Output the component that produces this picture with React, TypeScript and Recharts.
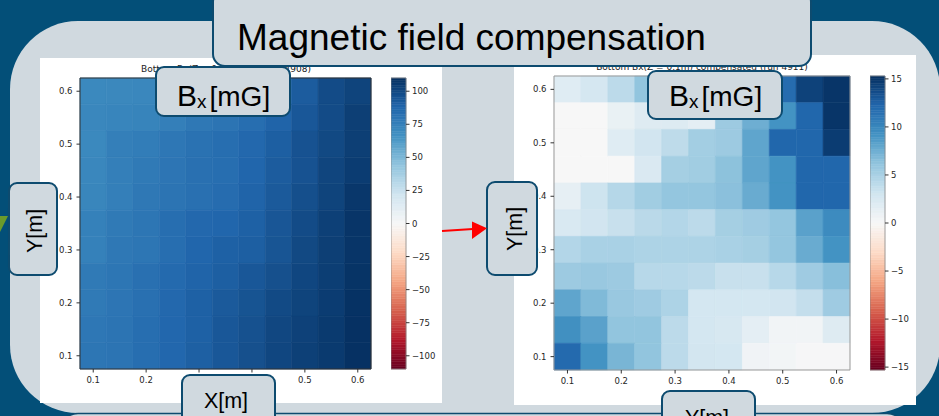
import React from "react";
import { ComposedChart, ReferenceArea, XAxis, YAxis } from "recharts";

// cell centres (m); rows are listed top (y = 0.6) to bottom (y = 0.1)
const X_CENTERS = [0.1, 0.15, 0.2, 0.25, 0.3, 0.35, 0.4, 0.45, 0.5, 0.55, 0.6];
const Y_CENTERS = [0.6, 0.55, 0.5, 0.45, 0.4, 0.35, 0.3, 0.25, 0.2, 0.15, 0.1];
const AXIS_TICKS = [0.1, 0.2, 0.3, 0.4, 0.5, 0.6];
const HALF_CELL = 0.025;

// Bx before compensation, run 4908 (mG)
const BX_BEFORE = [
  [71, 71.5, 72, 74, 77, 80, 83, 87, 92, 99, 102],
  [72, 73, 73.5, 76, 79, 81, 84, 89, 94, 99, 104],
  [71, 76, 77, 79.5, 82, 84, 87, 91, 96, 100, 104],
  [72, 76, 78, 80.5, 83, 84, 88, 92, 96, 101.5, 105],
  [72.5, 76, 79, 81, 83, 85, 89, 93, 97.5, 102, 107],
  [75, 78, 80, 84, 87, 88, 90, 94.5, 99, 103.5, 108],
  [75, 79, 80, 84, 88, 90, 91, 95, 100, 104, 108],
  [78, 80, 83, 86, 89, 91, 94, 97, 101, 104.5, 108.5],
  [78, 80.5, 83, 87, 90, 93, 95.5, 99.5, 102, 105, 109],
  [79.5, 81, 84, 87.5, 90, 94, 96.5, 100.5, 103, 106, 109.5],
  [80, 81, 84, 87.5, 90.5, 94, 97, 101, 103.5, 106, 109.5],
];

// Bx after compensation, run 4911 (mG)
const BX_AFTER = [
  [1.9, 2.7, 4.1, 6.1, 6.0, 6.5, 7.5, 9.5, 11.8, 14.3, 15.0],
  [0, 0, 1.1, 2.0, 2.1, 1.5, 5.6, 7.5, 9.2, 12.2, 15.0],
  [0, 0, 1.9, 3.0, 4.0, 5.3, 5.6, 8.1, 12.2, 12.2, 14.6],
  [0, 0, 0, 2.3, 5.2, 5.4, 6.3, 8.1, 9.2, 12.2, 12.2],
  [1.4, 3.2, 4.4, 5.4, 6.0, 6.0, 6.4, 7.7, 9.2, 12.2, 12.2],
  [2.4, 3.0, 3.5, 4.2, 4.5, 4.1, 5.2, 5.5, 6.0, 8.3, 9.7],
  [4.5, 5.0, 5.0, 4.8, 4.8, 4.8, 5.0, 5.2, 6.0, 7.7, 9.2],
  [5.6, 5.8, 5.6, 4.3, 4.3, 4.1, 3.5, 3.5, 4.3, 5.5, 6.5],
  [8.1, 6.8, 5.8, 5.5, 4.8, 2.8, 2.8, 2.8, 3.0, 3.7, 5.5],
  [9.4, 8.3, 6.1, 6.1, 4.1, 2.8, 2.6, 1.5, 0.5, 0.5, 2.0],
  [12.0, 9.2, 7.1, 6.1, 4.1, 2.9, 2.8, 0.6, 0.4, 0.1, 0.1],
];

const BEFORE_LIMIT = 110;
const AFTER_LIMIT = 15.3;
const BEFORE_CB_TICKS = [-100, -75, -50, -25, 0, 25, 50, 75, 100];
const AFTER_CB_TICKS = [-15, -10, -5, 0, 5, 10, 15];

// matplotlib RdBu
const RDBU = ["#67001f", "#b2182b", "#d6604d", "#f4a582", "#fddbc7", "#f7f7f7", "#d1e5f0", "#92c5de", "#4393c3", "#2166ac", "#053061"];
const CB_STEPS = 120;

const SLIDE_BLUE = "#034f78";
const PANEL = "#d0d9df";
const EDGE = "#0d4b6f";
const MPL_FONT = "'DejaVu Sans', sans-serif";
const SLIDE_FONT = "'Liberation Sans', Arial, sans-serif";

function hexToRgb(h: string) {
  const n = parseInt(h.slice(1), 16);
  return [(n >> 16) & 255, (n >> 8) & 255, n & 255];
}

function rdbu(v: number, limit: number) {
  const t = Math.min(1, Math.max(0, (v + limit) / (2 * limit))) * (RDBU.length - 1);
  const i = Math.min(RDBU.length - 2, Math.floor(t));
  const f = t - i;
  const a = hexToRgb(RDBU[i]);
  const b = hexToRgb(RDBU[i + 1]);
  return `rgb(${a.map((c, k) => Math.round(c + (b[k] - c) * f)).join(",")})`;
}

const fmtPos = (v: number) => v.toFixed(1);
const fmtCb = (v: number) => (v < 0 ? `\u2212${Math.abs(v)}` : String(v));
const tickStyle = { fontSize: 8.5, fill: "#262626", fontFamily: MPL_FONT };

interface HeatmapProps {
  grid: number[][];
  limit: number;
  width: number;
  height: number;
  top: number;
  right: number;
  xAxisHeight: number;
  frame: string;
}

function Heatmap({ grid, limit, width, height, top, right, xAxisHeight, frame }: HeatmapProps) {
  const cells = grid.flatMap((row, r) => row.map((v, c) => ({ x: X_CENTERS[c], y: Y_CENTERS[r], v })));
  return (
    <ComposedChart width={width} height={height} margin={{ top, right, bottom: 0, left: 0 }}>
      <XAxis
        type="number"
        dataKey="x"
        domain={[0.075, 0.625]}
        ticks={AXIS_TICKS}
        interval={0}
        tickFormatter={fmtPos}
        tick={tickStyle}
        tickSize={3.5}
        tickMargin={4}
        tickLine={{ stroke: "#333" }}
        axisLine={false}
        height={xAxisHeight}
        allowDataOverflow
      />
      <YAxis
        type="number"
        dataKey="y"
        domain={[0.075, 0.625]}
        ticks={AXIS_TICKS}
        interval={0}
        tickFormatter={fmtPos}
        tick={tickStyle}
        tickSize={3.5}
        tickMargin={4}
        tickLine={{ stroke: "#333" }}
        axisLine={false}
        width={40}
        allowDataOverflow
      />
      {cells.map((c) => {
        const col = rdbu(c.v, limit);
        return (
          <ReferenceArea
            key={`${c.x}-${c.y}`}
            x1={c.x - HALF_CELL}
            x2={c.x + HALF_CELL}
            y1={c.y - HALF_CELL}
            y2={c.y + HALF_CELL}
            fill={col}
            fillOpacity={1}
            stroke={col}
            strokeWidth={0.6}
            ifOverflow="visible"
          />
        );
      })}
      <ReferenceArea x1={0.075} x2={0.625} y1={0.075} y2={0.625} fill="none" stroke={frame} strokeWidth={1} ifOverflow="visible" />
    </ComposedChart>
  );
}

// colour bar: vertical strip of thin slices through the colormap, with a right-hand axis
function Colorbar({ limit, ticks, height }: { limit: number; ticks: number[]; height: number }) {
  const pad = 10;
  const step = (2 * limit) / CB_STEPS;
  const slices = Array.from({ length: CB_STEPS }, (_, i) => -limit + i * step);
  return (
    <ComposedChart width={62} height={height + 2 * pad} margin={{ top: pad, right: 0, bottom: pad, left: 0 }}>
      <XAxis type="number" dataKey="x" domain={[0, 1]} hide allowDataOverflow />
      <YAxis
        type="number"
        dataKey="y"
        orientation="right"
        domain={[-limit, limit]}
        ticks={ticks}
        interval={0}
        tickFormatter={fmtCb}
        tick={tickStyle}
        tickSize={3.5}
        tickMargin={2.5}
        tickLine={{ stroke: "#333" }}
        axisLine={false}
        width={47}
        allowDataOverflow
      />
      {slices.map((lo) => {
        const col = rdbu(lo + step / 2, limit);
        return (
          <ReferenceArea key={lo} x1={0} x2={1} y1={lo} y2={lo + step} fill={col} fillOpacity={1} stroke={col} strokeWidth={0.5} ifOverflow="visible" />
        );
      })}
      <ReferenceArea x1={0} x2={1} y1={-limit} y2={limit} fill="none" stroke="#888" strokeWidth={0.8} ifOverflow="visible" />
    </ComposedChart>
  );
}

function Box({ x, y, w, h, r = 8 }: { x: number; y: number; w: number; h: number; r?: number }) {
  return <rect x={x} y={y} width={w} height={h} rx={r} fill={PANEL} stroke={EDGE} strokeWidth={2} />;
}

function BxLabel({ x, y }: { x: number; y: number }) {
  return (
    <text x={x} y={y} fontFamily={SLIDE_FONT} fill="#000">
      <tspan fontSize={30}>B</tspan>
      <tspan fontSize={19} dy={1.5}>x</tspan>
      <tspan fontSize={28} dy={-1.5} dx={3}>[mG]</tspan>
    </text>
  );
}

export default function App() {
  return (
    <div style={{ position: "absolute", left: 0, top: 0, width: 939, height: 416, overflow: "hidden", fontFamily: SLIDE_FONT }}>
      {/* slide background */}
      <svg width={939} height={416} style={{ position: "absolute", left: 0, top: 0 }}>
        <rect width={939} height={416} fill={SLIDE_BLUE} />
        <polygon points="0,216 8,216 0,232" fill="#6a9b2b" />
        <rect x={10} y={21} width={930} height={392} rx={68} fill={PANEL} />
        <rect x={60} y={413.5} width={845} height={40} rx={18} fill={PANEL} stroke={EDGE} strokeWidth={1.5} />
      </svg>

      {/* left figure */}
      <div style={{ position: "absolute", left: 40, top: 58, width: 402, height: 345, background: "#fff" }}>
        <Heatmap grid={BX_BEFORE} limit={BEFORE_LIMIT} width={402} height={345} top={20} right={71} xAxisHeight={34} frame="#333" />
        <div style={{ position: "absolute", left: 351, top: 10 }}>
          <Colorbar limit={BEFORE_LIMIT} ticks={BEFORE_CB_TICKS} height={291} />
        </div>
      </div>

      {/* right figure */}
      <div style={{ position: "absolute", left: 514, top: 55, width: 402, height: 350, background: "#fff" }}>
        <Heatmap grid={BX_AFTER} limit={AFTER_LIMIT} width={402} height={350} top={21} right={66} xAxisHeight={35} frame="#999" />
        <div style={{ position: "absolute", left: 356, top: 11 }}>
          <Colorbar limit={AFTER_LIMIT} ticks={AFTER_CB_TICKS} height={294} />
        </div>
      </div>

      {/* slide overlays */}
      <svg width={939} height={416} style={{ position: "absolute", left: 0, top: 0, pointerEvents: "none" }}>
        <text x={226} y={72} textAnchor="middle" fontFamily={MPL_FONT} fontSize={9} fill="#222">
          Bottom Bx(Z = 0.1m) field (run 4908)
        </text>
        <text x={702} y={69.5} textAnchor="middle" fontFamily={MPL_FONT} fontSize={9} fill="#222">
          Bottom Bx(Z = 0.1m) compensated (run 4911)
        </text>

        <Box x={213} y={-10} w={598} h={76} r={12} />
        <text x={237} y={50} fontFamily={SLIDE_FONT} fontSize={37} fill="#000">
          Magnetic field compensation
        </text>

        <Box x={156} y={67} w={134} h={49} />
        <BxLabel x={177} y={106} />
        <Box x={648} y={71} w={134} h={48} />
        <BxLabel x={669} y={106} />

        <Box x={9} y={183} w={48} h={92} />
        <text transform="translate(41.5 231) rotate(-90)" textAnchor="middle" fontFamily={SLIDE_FONT} fontSize={21.5} fill="#000">
          Y[m]
        </text>
        <Box x={487} y={182} w={50} h={93} />
        <text transform="translate(522 229) rotate(-90)" textAnchor="middle" fontFamily={SLIDE_FONT} fontSize={21.5} fill="#000">
          Y[m]
        </text>

        <Box x={182} y={375} w={93} h={60} />
        <text x={226} y={408.3} textAnchor="middle" fontFamily={SLIDE_FONT} fontSize={21.5} fill="#000">
          X[m]
        </text>
        <Box x={662} y={391} w={93} h={60} />
        <text x={707} y={424.5} textAnchor="middle" fontFamily={SLIDE_FONT} fontSize={21.5} fill="#000">
          Y[m]
        </text>

        <line x1={442} y1={231} x2={473} y2={229} stroke="#ff0000" strokeWidth={2} />
        <polygon points="472,221.5 487,228.3 472,239" fill="#ff0000" />
      </svg>
    </div>
  );
}
